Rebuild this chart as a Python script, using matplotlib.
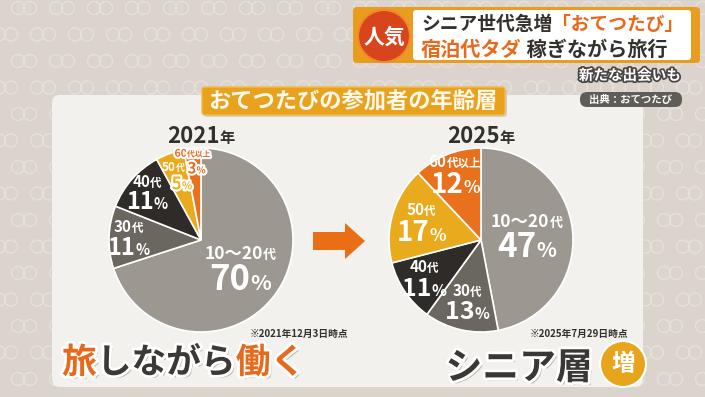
import numpy as np
import matplotlib
matplotlib.use('Agg')
import matplotlib.pyplot as plt
import matplotlib.patheffects as pe
from matplotlib.patches import FancyBboxPatch, Circle, FancyArrow

plt.rcParams['font.family'] = ['Noto Sans CJK JP', 'DejaVu Sans']

# data
age_groups = ['10〜20代', '30代', '40代', '50代', '60代以上']
share_2021 = [70, 11, 11, 5, 3]
share_2025 = [47, 13, 11, 17, 12]
years = ['2021', '2025']
as_of = ['※2021年12月3日時点', '※2025年7月29日時点']
slice_colors = ['#9c988f', '#6b675f', '#2e2b28', '#e9aa1d', '#e9711d']

W, H = 705, 397
fig = plt.figure(figsize=(W / 100, H / 100), dpi=100)
ax = fig.add_axes([0, 0, 1, 1])
renderer = fig.canvas.get_renderer()

DARK = '#34312d'
ORANGE = '#e8691b'
white_edge = [pe.withStroke(linewidth=3, foreground='white')]


def rich(x, y, parts, ha='center', weight='bold', effects=None, zorder=10):
    # parts: (text, fontsize, color), laid out on a common baseline
    objs = []
    for s, size, color in parts:
        t = ax.text(0, y, s, fontsize=size, color=color, fontweight=weight,
                    va='baseline', ha='left', zorder=zorder)
        if effects:
            t.set_path_effects(effects)
        objs.append(t)
    widths = [t.get_window_extent(renderer).width for t in objs]
    x0 = x - sum(widths) / 2 if ha == 'center' else x
    for t, w in zip(objs, widths):
        t.set_x(x0)
        x0 += w
    return objs


# background + ring pattern
ax.add_patch(plt.Rectangle((0, 0), W, H, color='#dbd4cc', zorder=0))
for row, yy in enumerate(np.arange(8, H + 20, 26.5)):
    shift = 0 if row % 2 == 0 else 19
    for xx in np.arange(-20 + shift, W + 20, 38):
        for off in (0, 12):
            ax.add_patch(Circle((xx + off, yy), 6.5, fill=False, ec='#e5e0d9',
                                lw=1.0, zorder=0.5))

# main panel
ax.add_patch(FancyBboxPatch((52, 95), 591, 292, boxstyle='round,pad=0,rounding_size=8',
                            fc='#f3f1ed', ec='none', zorder=1))

# header
ax.add_patch(FancyBboxPatch((353, 7), 347, 56, boxstyle='round,pad=0,rounding_size=4',
                            fc='#e99d1f', ec='none', zorder=2))
ax.add_patch(FancyBboxPatch((413, 10), 278, 50, boxstyle='round,pad=0,rounding_size=3',
                            fc='white', ec='none', zorder=3))
ax.add_patch(Circle((384, 36), 26, fc='#d8441c', ec='#f08a2a', lw=1.5, zorder=4))
ax.text(384, 37, '人気', fontsize=15, color='white', fontweight='bold',
        ha='center', va='center', zorder=5)
rich(421, 30, [('シニア世代急増', 13.5, DARK), ('「おてつたび」', 13.5, ORANGE)], ha='left')
rich(421, 56, [('宿泊代タダ', 14.5, ORANGE), (' 稼ぎながら旅行', 14.5, DARK)], ha='left')

ax.text(630, 75, '新たな出会いも', fontsize=10.5, color='white', fontweight='bold',
        ha='center', va='center', zorder=5,
        path_effects=[pe.withStroke(linewidth=2.5, foreground='#4a4744')])
ax.add_patch(FancyBboxPatch((580, 92), 102, 15, boxstyle='round,pad=0,rounding_size=7',
                            fc='#605d59', ec='none', zorder=4))
ax.text(631, 99.5, '出典：おてつたび', fontsize=7.5, color='white', fontweight='bold',
        ha='center', va='center', zorder=5)

# chart title box
ax.add_patch(FancyBboxPatch((204, 89), 303, 28, boxstyle='round,pad=0,rounding_size=3',
                            fc='#b9b2a8', ec='none', alpha=0.5, zorder=2))
ax.add_patch(FancyBboxPatch((202, 87), 303, 28, boxstyle='round,pad=0,rounding_size=3',
                            fc='#e9a21d', ec='#f2b947', lw=1, zorder=3))
ax.text(353, 101.5, 'おてつたびの参加者の年齢層', fontsize=16, color='#fff8ec',
        fontweight='bold', ha='center', va='center', zorder=4)

# label layout per slice: distance from centre (fraction of r), size of the
# "NN代" line, size of the percentage, colour, outline, x nudge of the two lines
RADIUS = 92
layout_2021 = [(0.525, 12.5, 25, 'white', None, (0, 0)),
               (0.79, 11, 17, 'white', None, (0, 0)),
               (0.78, 11, 17, 'white', None, (0, 0)),
               (0.74, 8.5, 12.5, ('white', '#eeb020'), 'w', (-5, 4)),
               (0.86, 7.5, 11, (ORANGE, ORANGE), 'w', (-1, 3))]
layout_2025 = [(0.50, 12.5, 24, 'white', None, (0, 0)),
               (0.69, 11, 18, 'white', None, (0, 0)),
               (0.75, 11, 18, 'white', None, (0, 0)),
               (0.68, 11, 20, 'white', None, (0, 0)),
               (0.77, 11, 20, 'white', None, (0, 0))]


def draw_pie(cx, cy, shares, layout, year, note):
    wedges, _ = ax.pie(shares, colors=slice_colors, startangle=270, counterclock=True,
                       center=(cx, cy), radius=RADIUS,
                       wedgeprops=dict(edgecolor='white', linewidth=1.2))
    for w in wedges:
        w.set_zorder(5)
    for w, grp, val, (frac, cs, ps, color, outline, nudge) in zip(wedges, age_groups,
                                                                  shares, layout):
        mid = np.deg2rad((w.theta1 + w.theta2) / 2)
        lx = cx + frac * RADIUS * np.cos(mid)
        ly = cy + frac * RADIUS * np.sin(mid)
        c1, c2 = (color, color) if isinstance(color, str) else color
        eff = white_edge if outline else None
        cat_h = 0.73 * cs * 100 / 72
        pct_h = 0.73 * ps * 100 / 72
        gap = 5.5
        pct_base = ly + (cat_h + gap + pct_h) / 2
        cat_base = pct_base - pct_h - gap
        k = grp.index('代')
        rich(lx + nudge[0], cat_base, [(grp[:k], cs, c1), (grp[k:], cs * 0.75, c1)],
             effects=eff if c1 != 'white' else None)
        rich(lx + nudge[1], pct_base, [(str(val), ps, c2), ('%', ps * 0.62, c2)],
             effects=eff)
    rich(cx, 143, [(year, 16, DARK), ('年', 11, DARK)])
    ax.text(cx + 98, 334, note, fontsize=7, color=DARK, fontweight='bold',
            ha='center', va='center', zorder=6)


draw_pie(201, 240, share_2021, layout_2021, years[0], as_of[0])
draw_pie(481, 240, share_2025, layout_2025, years[1], as_of[1])

# arrow between the pies
ax.add_patch(FancyArrow(313, 241, 32, 0, width=18, head_width=36, head_length=20,
                        length_includes_head=False, fc='#ea6e16', ec='none', zorder=5))

# bottom captions
big_fx = [pe.withSimplePatchShadow(offset=(2, -2), shadow_rgbFace='#8a847c', alpha=0.5),
          pe.withStroke(linewidth=4, foreground='white')]
rich(62, 373, [('旅', 25, ORANGE), ('しながら', 25, '#3b3835'), ('働く', 25, ORANGE)],
     ha='left', effects=big_fx)
rich(519, 379, [('シニア層', 26.5, '#3a3734')], effects=big_fx)
ax.add_patch(Circle((623, 364), 23, fc='#e8a51c', ec='white', lw=1.5, zorder=9))
ax.text(623, 364, '増', fontsize=17, color='white', fontweight='bold',
        ha='center', va='center', zorder=10)

ax.set_xlim(0, W)
ax.set_ylim(H, 0)
ax.set_aspect('auto')
ax.axis('off')
fig.savefig('out.png', dpi=100)
